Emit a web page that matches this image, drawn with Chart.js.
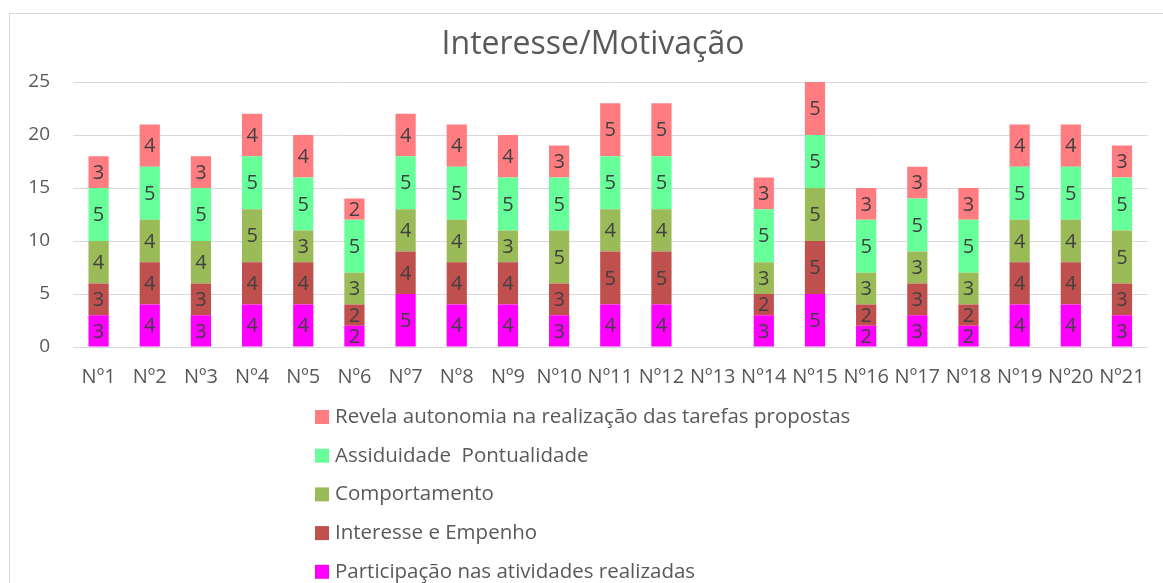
<!DOCTYPE html>
<html>
<head>
<meta charset="utf-8">
<title>Interesse/Motivação</title>
<script src="https://cdn.jsdelivr.net/npm/chart.js@4/dist/chart.umd.min.js"></script>
<style>
  html, body { margin: 0; padding: 0; background: #fff; }
  #wrap { width: 1163px; height: 583px; }
</style>
</head>
<body>
<div id="wrap"><canvas id="chart" width="1163" height="583"></canvas></div>
<script>
const categories = ['Nº1', 'Nº2', 'Nº3', 'Nº4', 'Nº5', 'Nº6', 'Nº7', 'Nº8', 'Nº9', 'Nº10', 'Nº11',
  'Nº12', 'Nº13', 'Nº14', 'Nº15', 'Nº16', 'Nº17', 'Nº18', 'Nº19', 'Nº20', 'Nº21'];

const participacao = [3, 4, 3, 4, 4, 2, 5, 4, 4, 3, 4, 4, null, 3, 5, 2, 3, 2, 4, 4, 3];
const interesse = [3, 4, 3, 4, 4, 2, 4, 4, 4, 3, 5, 5, null, 2, 5, 2, 3, 2, 4, 4, 3];
const comportamento = [4, 4, 4, 5, 3, 3, 4, 4, 3, 5, 4, 4, null, 3, 5, 3, 3, 3, 4, 4, 5];
const assiduidade = [5, 5, 5, 5, 5, 5, 5, 5, 5, 5, 5, 5, null, 5, 5, 5, 5, 5, 5, 5, 5];
const autonomia = [3, 4, 3, 4, 4, 2, 4, 4, 4, 3, 5, 5, null, 3, 5, 3, 3, 3, 4, 4, 3];

const yTicks = [0, 5, 10, 15, 20, 25];

const chartTitle = 'Interesse/Motivação';

const FONT = '"Open Sans", sans-serif';
const TEXT = '#595959';

// numbers inside each bar segment
const segmentLabels = {
  id: 'segmentLabels',
  afterDatasetsDraw(chart) {
    const ctx = chart.ctx;
    ctx.save();
    ctx.font = '20px ' + FONT;
    ctx.fillStyle = '#404040';
    ctx.textAlign = 'center';
    ctx.textBaseline = 'middle';
    chart.data.datasets.forEach(function (ds, i) {
      chart.getDatasetMeta(i).data.forEach(function (bar, j) {
        const v = ds.data[j];
        if (v == null) return;
        const p = bar.getCenterPoint();
        ctx.fillText(String(v), p.x, p.y + 1);
      });
    });
    ctx.restore();
  }
};

// frame, title and the vertical legend (last series on top)
const decorations = {
  id: 'decorations',
  afterDraw(chart) {
    const ctx = chart.ctx;
    ctx.save();
    ctx.strokeStyle = '#d9d9d9';
    ctx.lineWidth = 1;
    ctx.strokeRect(9.5, 13.5, 1200, 620);

    ctx.fillStyle = TEXT;
    ctx.font = '32px ' + FONT;
    ctx.textAlign = 'center';
    ctx.textBaseline = 'middle';
    ctx.fillText(chartTitle, 593, 45);

    const items = chart.data.datasets.slice().reverse();
    ctx.font = '20.5px ' + FONT;
    ctx.textAlign = 'left';
    items.forEach(function (ds, i) {
      const y = 417 + i * 38.7;
      ctx.fillStyle = ds.backgroundColor;
      ctx.fillRect(315, y - 7, 14, 14);
      ctx.fillStyle = TEXT;
      ctx.fillText(ds.label, 335, y);
    });
    ctx.restore();
  }
};

new Chart(document.getElementById('chart'), {
  type: 'bar',
  data: {
    labels: categories,
    datasets: [{
      label: 'Participação nas atividades realizadas',
      data: participacao,
      backgroundColor: '#FF00FF'
    }, {
      label: 'Interesse e Empenho',
      data: interesse,
      backgroundColor: '#C0504D'
    }, {
      label: 'Comportamento',
      data: comportamento,
      backgroundColor: '#9BBB59'
    }, {
      label: 'Assiduidade  Pontualidade',
      data: assiduidade,
      backgroundColor: '#66FF99'
    }, {
      label: 'Revela autonomia na realização das tarefas propostas',
      data: autonomia,
      backgroundColor: '#FF7C80'
    }]
  },
  options: {
    responsive: false,
    animation: false,
    layout: { padding: { left: 9, right: 13, top: 82, bottom: 196 } },
    datasets: {
      bar: { categoryPercentage: 1, barPercentage: 0.395, borderWidth: 0 }
    },
    plugins: {
      legend: { display: false },
      tooltip: { enabled: false },
      title: { display: false }
    },
    scales: {
      x: {
        stacked: true,
        grid: { display: false, drawTicks: false },
        border: { display: false },
        ticks: { color: TEXT, font: { family: FONT, size: 20 }, padding: 18, maxRotation: 0, autoSkip: false },
        afterFit(s) { s.height = 40; }
      },
      y: {
        stacked: true,
        min: 0,
        max: 25,
        afterBuildTicks(s) { s.ticks = yTicks.map(function (v) { return { value: v }; }); },
        grid: { color: '#d9d9d9', lineWidth: 1, drawTicks: false },
        border: { display: false },
        ticks: { color: TEXT, font: { family: FONT, size: 19 }, padding: 23 },
        afterFit(s) { s.width = 64; }
      }
    }
  },
  plugins: [segmentLabels, decorations]
});
</script>
</body>
</html>
